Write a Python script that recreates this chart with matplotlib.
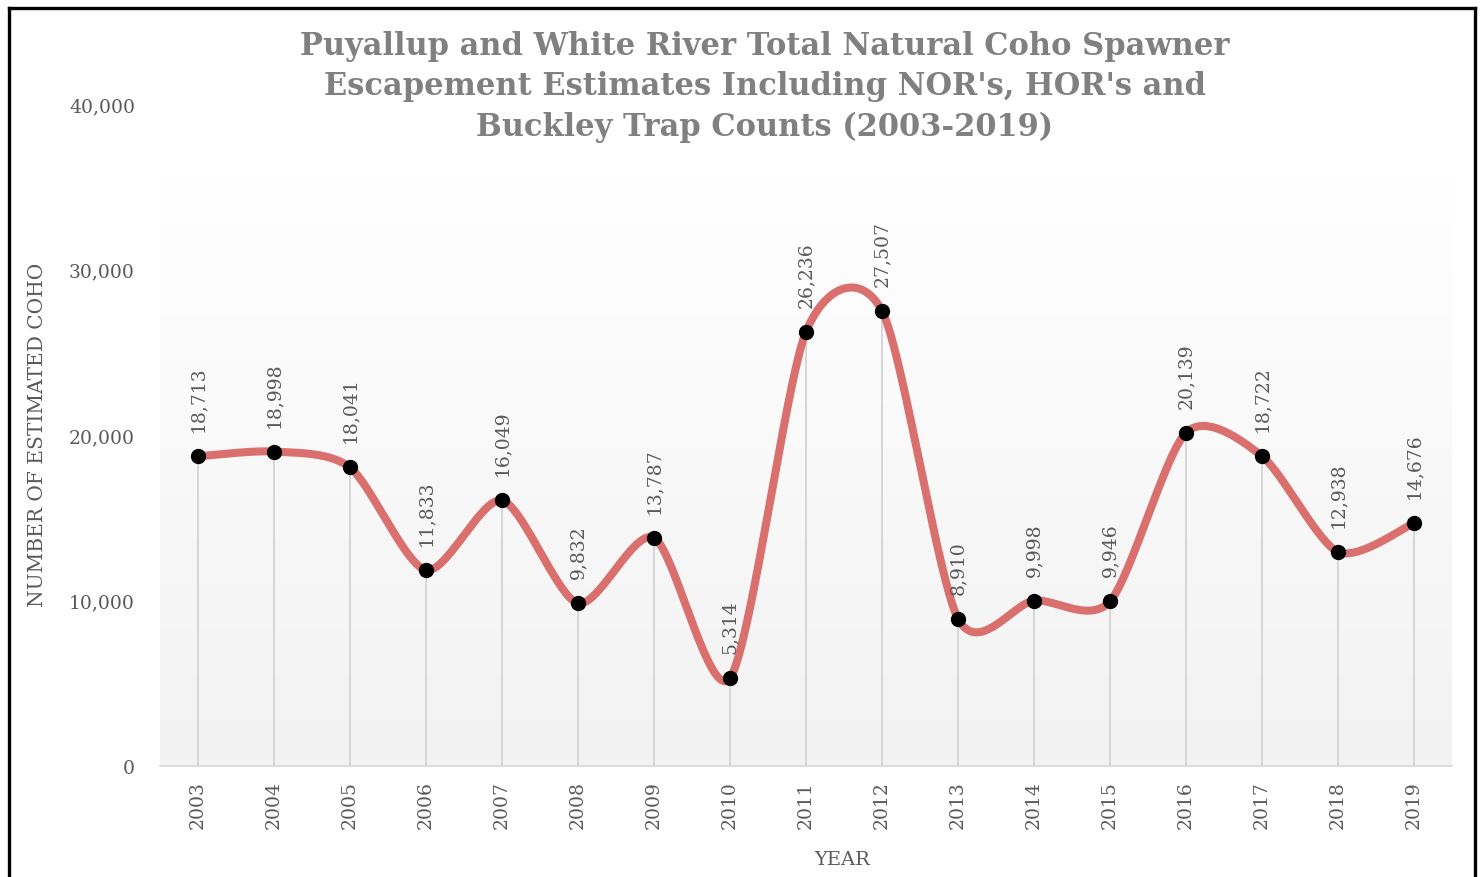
import numpy as np
import matplotlib
matplotlib.use("Agg")
import matplotlib.pyplot as plt
from matplotlib.lines import Line2D
from matplotlib.colors import LinearSegmentedColormap

years = ["2003", "2004", "2005", "2006", "2007", "2008", "2009", "2010", "2011",
         "2012", "2013", "2014", "2015", "2016", "2017", "2018", "2019"]
coho = [18713, 18998, 18041, 11833, 16049, 9832, 13787, 5314, 26236,
        27507, 8910, 9998, 9946, 20139, 18722, 12938, 14676]
yticks = [0, 10000, 20000, 30000, 40000]

title = ("Puyallup and White River Total Natural Coho Spawner\n"
         "Escapement Estimates Including NOR's, HOR's and\n"
         "Buckley Trap Counts (2003-2019)")

plt.rcParams['font.family'] = ['DejaVu Serif']

W, H = 1481, 878
fig = plt.figure(figsize=(W / 100, H / 100), dpi=100)
ax = fig.add_axes([160 / W, 1 - 767 / H, (1452 - 160) / W, (767 - 105) / H])

x = np.arange(len(years))
y = np.array(coho, dtype=float)

# background gradient (light gray at bottom to white at top)
grad = np.linspace(0.0, 1.0, 256).reshape(-1, 1)
cmap = LinearSegmentedColormap.from_list("g", ["#f2f2f2", "#ffffff"])
ax.imshow(grad, aspect="auto", cmap=cmap, extent=[-0.5, len(years) - 0.5, 0, 35500],
          origin="lower", zorder=0)

# drop lines
ax.vlines(x, 0, y, color="#d4d4d4", lw=1.3, zorder=1)

# smooth curve (cardinal spline like Excel smoothing)
def smooth(xs, ys, n=40, k=1 / 7.5):
    px = np.concatenate([[xs[0]], xs, [xs[-1]]])
    py = np.concatenate([[ys[0]], ys, [ys[-1]]])
    outx, outy = [], []
    t = np.linspace(0, 1, n)
    for i in range(1, len(px) - 2):
        p0 = np.array([px[i], py[i]])
        p3 = np.array([px[i + 1], py[i + 1]])
        p1 = p0 + (np.array([px[i + 1], py[i + 1]]) - np.array([px[i - 1], py[i - 1]])) * k
        p2 = p3 - (np.array([px[i + 2], py[i + 2]]) - np.array([px[i], py[i]])) * k
        b = ((1 - t) ** 3)[:, None] * p0 + (3 * (1 - t) ** 2 * t)[:, None] * p1 + \
            (3 * (1 - t) * t ** 2)[:, None] * p2 + (t ** 3)[:, None] * p3
        outx.extend(b[:, 0]); outy.extend(b[:, 1])
    return np.array(outx), np.array(outy)

sx, sy = smooth(x.astype(float), y)
ax.plot(sx, sy, color="#d9706e", lw=5.8, solid_capstyle="round", zorder=2)
ax.plot(x, y, "o", color="black", ms=10, zorder=3)

for xi, yi in zip(x, y):
    ax.annotate(f"{int(yi):,}", (xi, yi), xytext=(0, 18), textcoords="offset points",
                rotation=90, ha="center", va="bottom", fontsize=13.5, color="#595959",
                zorder=4)

ax.set_xlim(-0.5, len(years) - 0.5)
ax.set_ylim(0, 40000)
ax.set_xticks(x)
ax.set_xticklabels(years, rotation=90, fontsize=13.5, color="#595959")
ax.set_yticks(yticks)
ax.set_yticklabels([f"{v:,}" for v in yticks], fontsize=13.5, color="#595959")
ax.tick_params(axis="both", length=0, pad=10)
ax.tick_params(axis="y", pad=18)
for s in ["left", "right", "top"]:
    ax.spines[s].set_visible(False)
ax.spines["bottom"].set_color("#d9d9d9")
ax.spines["bottom"].set_linewidth(1.3)

fig.text(842 / W, 1 - 860 / H, "YEAR", ha="center", va="center",
         fontsize=14, color="#595959")
fig.text(38 / W, 1 - 435 / H, "NUMBER OF ESTIMATED COHO", rotation=90,
         ha="center", va="center", fontsize=14.5, color="#595959")

fig.text(765 / W, 1 - 87 / H, title, ha="center", va="center", fontsize=22,
         fontweight="bold", color="#808080", linespacing=1.38)

# frame
lw = 2.4
fig.add_artist(Line2D([9 / W, 9 / W], [0, 1 - 9 / H], color="black", lw=lw, transform=fig.transFigure))
fig.add_artist(Line2D([9 / W, 1475 / W], [1 - 9 / H, 1 - 9 / H], color="black", lw=lw, transform=fig.transFigure))
fig.add_artist(Line2D([1475 / W, 1475 / W], [0, 1 - 9 / H], color="black", lw=lw, transform=fig.transFigure))

fig.savefig("out.png", dpi=100, facecolor="white")
